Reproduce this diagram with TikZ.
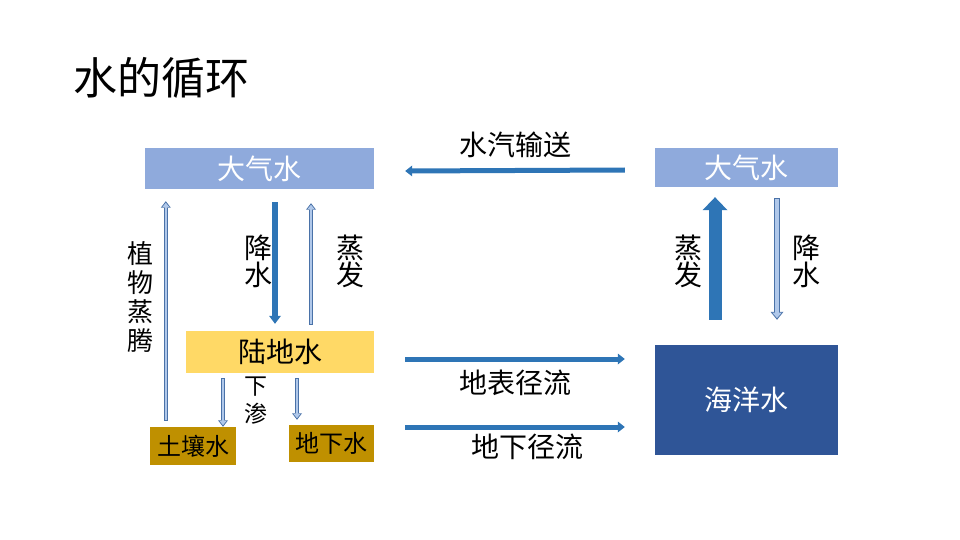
\documentclass[tikz,border=0pt]{standalone}
\usepackage{fontspec}
\setmainfont{Noto Sans CJK SC}
\usepackage{tikz}
\usetikzlibrary{arrows.meta,calc,positioning}
\definecolor{skyblue}{HTML}{8FAADC}
\definecolor{landyellow}{HTML}{FFD966}
\definecolor{soilgold}{HTML}{BF9000}
\definecolor{seablue}{HTML}{2F5597}
\definecolor{flowblue}{HTML}{2E75B6}
\definecolor{hollowline}{HTML}{4A72A8}
\definecolor{hollowfill}{HTML}{B0C8EA}
\tikzset{
  %Define style for boxes
  box/.style={
    rectangle,
    inner sep=0pt,
    font=\fontsize{28}{30}\selectfont},
  skybox/.style={box, fill=skyblue, text=white},
  landbox/.style={box, fill=landyellow},
  soilbox/.style={box, fill=soilgold, font=\fontsize{24}{26}\selectfont},
  seabox/.style={box, fill=seablue, text=white},
  % Define arrow styles
  flow/.style={
    draw=flowblue,
    line width=5pt,
    -{Triangle[length=7pt,width=11pt,line width=0pt]}},
  bigflow/.style={
    draw=flowblue,
    line width=13pt,
    -{Triangle[length=13pt,width=25pt,line width=0pt]}},
  hollow/.style={
    draw=hollowfill,
    line width=2.6pt,
    -{Triangle[length=4pt,width=6.5pt,line width=0pt]},
    shorten >=1.6pt, shorten <=0.9pt,
    preaction={draw=hollowline, line width=4.6pt, shorten >=0pt, shorten <=0pt,
      -{Triangle[length=6.5pt,width=10pt,line width=0pt]}}},
  hollowwide/.style={
    draw=hollowfill,
    line width=4pt,
    -{Triangle[length=5.5pt,width=9.5pt,line width=0pt]},
    shorten >=1.7pt, shorten <=0.9pt,
    preaction={draw=hollowline, line width=6pt, shorten >=0pt, shorten <=0pt,
      -{Triangle[length=8pt,width=13pt,line width=0pt]}}},
  % Define label style
  lbl/.style={font=\fontsize{28}{30}\selectfont},
  vlbl/.style={align=center, inner sep=0pt, font=\fontsize{28}{27}\selectfont}
}

\begin{document}
\begin{tikzpicture}[x=1pt,y=-1pt]
  \useasboundingbox (0,0) rectangle (960,540);
  \node[anchor=west, font=\fontsize{44}{48}\selectfont] (title) at (70,78) {水的循环};
  % boxes
  \node[skybox, minimum width=229, minimum height=41] (atmL) at (259.5,168.5) {大气水};
  \node[skybox, minimum width=183, minimum height=39] (atmR) at (746.5,167.5) {大气水};
  \node[landbox, minimum width=188, minimum height=42] (land) at (280,352) {陆地水};
  \node[soilbox, minimum width=86, minimum height=38] (soil) at (193,446) {土壤水};
  \node[soilbox, minimum width=85, minimum height=37] (ground) at (331.5,443.5) {地下水};
  \node[seabox, minimum width=183, minimum height=110] (sea) at (746.5,400) {海洋水};
  % horizontal flows
  \coordinate (vapS) at ($(atmR.west)+(-30,2.5)$);
  \coordinate (vapE) at ($(atmL.east)+(31,2.5)$);
  \coordinate (runS) at ($(land.east)+(31,7)$);
  \coordinate (runE) at ($(sea.west |- land.east)+(-30,7)$);
  \coordinate (subS) at ($(ground.east)+(31,-16.5)$);
  \coordinate (subE) at ($(sea.west)+(-30,27)$);
  \draw[flow] (vapS) -- (vapE);
  \draw[flow] (runS) -- (runE);
  \draw[flow] (subS) -- (subE);
  \node[lbl] (vapor) at ($(vapS)!0.5!(vapE)+(0,-26)$) {水汽输送};
  \node[lbl] (surface) at ($(runS)!0.5!(runE)+(0,24)$) {地表径流};
  \node[lbl] (under) at ($(subS)!0.5!(subE)+(12,20)$) {地下径流};
  % land side
  \coordinate (transS) at ($(soil.north west)+(16,-6)$);
  \coordinate (transE) at (transS |- {$(atmL.south)+(0,12)$});
  \coordinate (rainS) at ($(atmL.south)+(15.5,13)$);
  \coordinate (rainE) at (rainS |- {$(land.north)+(0,-7)$});
  \coordinate (evapS) at ($(land.north)+(31,-6)$);
  \coordinate (evapE) at (evapS |- {$(atmL.south)+(0,14)$});
  \coordinate (infA) at ($(land.south)+(-57,5)$);
  \coordinate (infB) at ($(land.south)+(17,5)$);
  \draw[hollow] (transS) -- (transE);
  \draw[flow, line width=6pt, -{Triangle[length=8pt,width=12pt,line width=0pt]}] (rainS) -- (rainE);
  \draw[hollow] (evapS) -- (evapE);
  \draw[hollow] (infA) -- (infA |- soil.north);
  \draw[hollow] (infB) -- ($(infB |- ground.north)+(0,-5)$);
  \node[vlbl, font=\fontsize{26}{29}\selectfont] (translbl) at (140,297) {植\\物\\蒸\\腾};
  \node[vlbl] (rainlbl) at (258,261) {降\\水};
  \node[vlbl] (evaplbl) at (350,261) {蒸\\发};
  \node[vlbl, font=\fontsize{23}{28}\selectfont] (inflbl) at (256,401) {下\\渗};
  % sea side
  \coordinate (seaevS) at ($(sea.north)+(-31.5,-25)$);
  \coordinate (seaevE) at (seaevS |- {$(atmR.south)+(0,10)$});
  \coordinate (searnS) at ($(atmR.south)+(30.5,11)$);
  \coordinate (searnE) at (searnS |- {$(sea.north)+(0,-25)$});
  \draw[bigflow] (seaevS) -- (seaevE);
  \draw[hollowwide] (searnS) -- (searnE);
  \node[vlbl] (seaevlbl) at (688,261) {蒸\\发};
  \node[vlbl] (searnlbl) at (806,261) {降\\水};
\end{tikzpicture}
\end{document}
